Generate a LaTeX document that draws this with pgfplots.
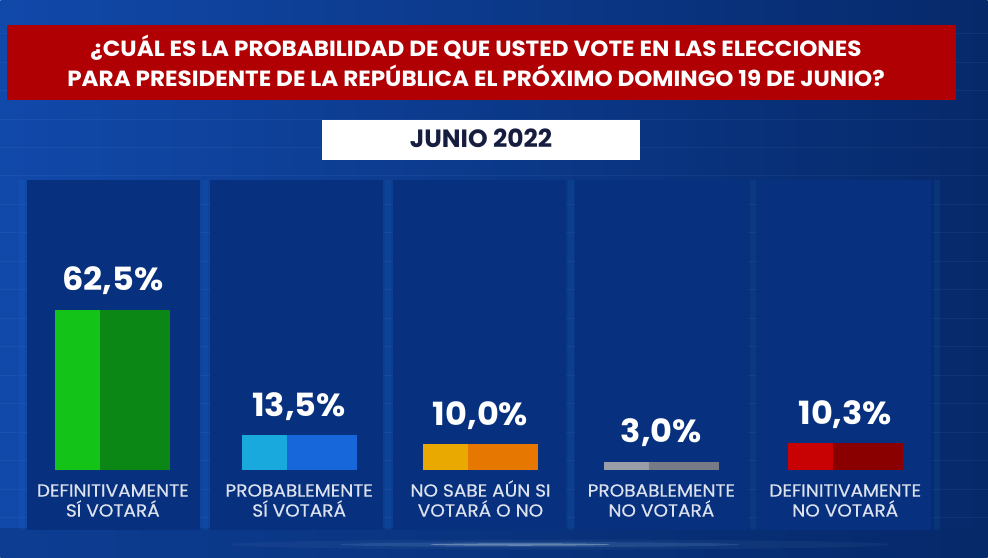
\documentclass[border=0pt]{standalone}
\usepackage{pgfplots}
\pgfplotsset{compat=1.18}
\usepackage{pgfplotstable}
\usepackage{fontspec}
\setmainfont{Poppins}

% panel and background palette
\definecolor{bgL}{HTML}{1149AA}
\definecolor{bgM}{HTML}{0B43A0}
\definecolor{bgR}{HTML}{06296A}
\definecolor{panel}{HTML}{07307E}
\definecolor{banner}{HTML}{B00004}
\definecolor{navy}{HTML}{161D3E}
\definecolor{labelgray}{HTML}{DCE2EE}
% bar colours: light (left part) and dark (right part)
\definecolor{lt0}{HTML}{14C318}
\definecolor{dk0}{HTML}{0A8714}
\definecolor{lt1}{HTML}{19A9DC}
\definecolor{dk1}{HTML}{1767DA}
\definecolor{lt2}{HTML}{E9A900}
\definecolor{dk2}{HTML}{E67700}
\definecolor{lt3}{HTML}{9A9EA8}
\definecolor{dk3}{HTML}{777B87}
\definecolor{lt4}{HTML}{C80202}
\definecolor{dk4}{HTML}{8A0000}

% wide faces for the headline, values and labels
\newfontfamily\headfont[FakeStretch=1.05]{Poppins}
\newfontfamily\labfont[FakeStretch=1.06, FakeBold=0.5]{Poppins}

% bar centre (x) and share in percent
\pgfplotstableread{
cx    val
112.5 62.5
299   13.5
480.5 10.0
661.5 3.0
845.5 10.3
}\results

\begin{document}
\begin{tikzpicture}[x=1pt,y=1pt]
% background
\shade[left color=bgL, middle color=bgM, right color=bgR] (0,0) rectangle (988,558);
\fill[bgR, opacity=0.35] (0,0) rectangle (988,30);
% faint grid
\foreach \y in {40,68.5,97,125.5,154,182.5,211,239.5,268,296.5,325,353.5,382,410.5,439,467.5,496,524.5}
  \draw[white, opacity=0.045, line width=0.8pt] (0,\y) -- (988,\y);
\foreach \x in {22,205,388,571,753,937}
  \fill[cyan!60!blue, opacity=0.12] (\x-3,28) rectangle (\x+3,378);
% column panels
\foreach \xa in {27,210,393,575,758}
  \fill[panel] (\xa,28) rectangle ++(173,350);
% glow streak along the bottom
\fill[white, opacity=0.04] (560,13) ellipse (330 and 5);
\fill[cyan!40!white, opacity=0.12] (540,13) ellipse (200 and 2.5);
\fill[white, opacity=0.3] (520,13) ellipse (90 and 1.2);
% question banner
\fill[banner] (7,458) rectangle (956,533);
\node[anchor=base, text=white, inner sep=0pt, font=\headfont\fontsize{22}{26}\bfseries] at (476,501)
  {¿CUÁL ES LA PROBABILIDAD DE QUE USTED VOTE EN LAS ELECCIONES};
\node[anchor=base, text=white, inner sep=0pt, font=\headfont\fontsize{22}{26}\bfseries] at (476,471)
  {PARA PRESIDENTE DE LA REPÚBLICA EL PRÓXIMO DOMINGO 19 DE JUNIO?};
% date box
\fill[white] (322,398) rectangle (640,438);
\node[anchor=base, text=navy, inner sep=0pt, font=\fontsize{25}{28}\bfseries] at (481,410) {JUNIO 2022};

\begin{axis}[
  at={(0,0)}, anchor=south west,
  width=988pt, height=558pt, scale only axis,
  xmin=0, xmax=988, ymin=-34.375, ymax=183.59375,
  axis lines=none, clip=false,
]
\pgfplotsinvokeforeach{0,1,2,3,4}{
  \addplot[ybar, bar width=45, bar shift=-35, fill=lt#1, draw=none,
    restrict expr to domain={\coordindex}{#1:#1}] table[x=cx, y=val] {\results};
  \addplot[ybar, bar width=70, bar shift=22.5, fill=dk#1, draw=none,
    restrict expr to domain={\coordindex}{#1:#1}] table[x=cx, y=val] {\results};
}
% value labels over each bar
\addplot[ybar, bar width=115, bar shift=0, fill=none, draw=none,
  point meta=y,
  nodes near coords={\pgfmathprintnumber[fixed, fixed zerofill, precision=1,
    use comma, assume math mode=true]{\pgfplotspointmeta}\%},
  every node near coord/.append style={anchor=base, yshift=19pt, inner sep=0pt,
    text=white, font=\headfont\fontsize{32}{35}\bfseries},
] table[x=cx, y=val] {\results};
\end{axis}

% category labels
\foreach \cx/\la/\lb in {112.5/DEFINITIVAMENTE/SÍ VOTARÁ,
                         299/PROBABLEMENTE/SÍ VOTARÁ,
                         480.5/NO SABE AÚN SI/VOTARÁ O NO,
                         661.5/PROBABLEMENTE/NO VOTARÁ,
                         845.5/DEFINITIVAMENTE/NO VOTARÁ} {
  \node[anchor=base, text=labelgray, inner sep=0pt, font=\labfont\fontsize{17.5}{20}\selectfont] at (\cx,61) {\la};
  \node[anchor=base, text=labelgray, inner sep=0pt, font=\labfont\fontsize{17.5}{20}\selectfont] at (\cx,41) {\lb};
}
\end{tikzpicture}
\end{document}
